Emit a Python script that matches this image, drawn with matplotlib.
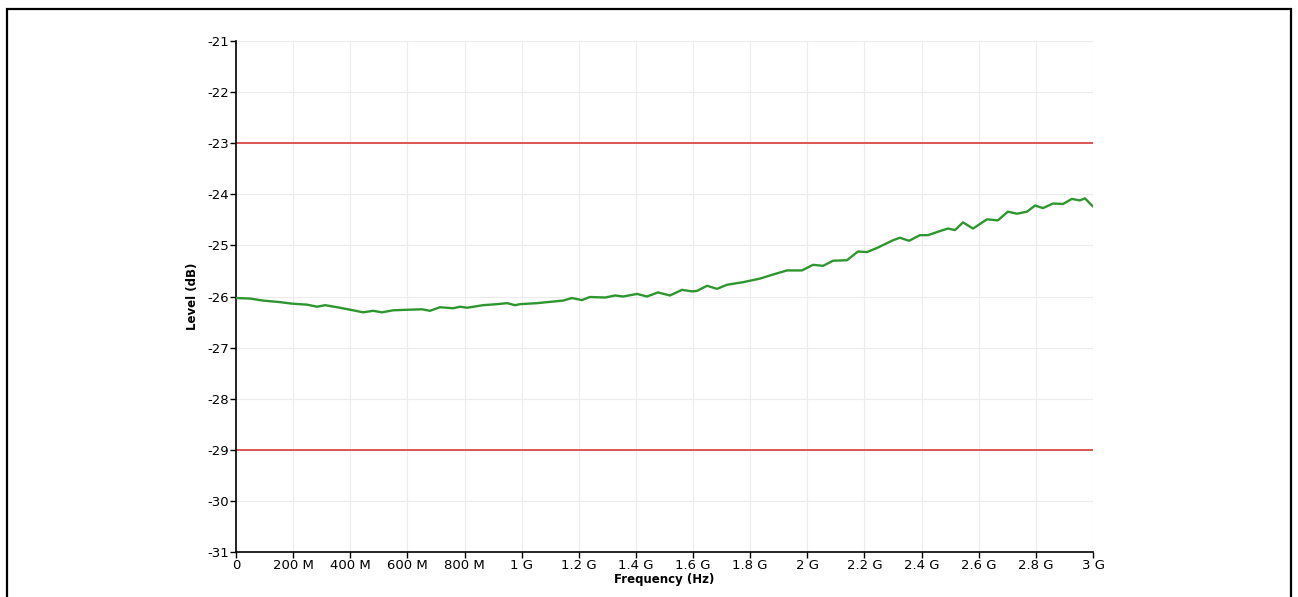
import matplotlib
matplotlib.use("Agg")
import matplotlib.pyplot as plt
from matplotlib.patches import Rectangle

plt.rcParams.update({
    "font.family": "DejaVu Sans",
    "font.size": 9,
})

# measured trace (MHz, dB)
freq_mhz = [0, 49, 95, 154, 196, 249, 284, 312, 354, 410, 445, 480, 511, 550,
            599, 651, 679, 714, 760, 784, 809, 865, 914, 949, 977, 994, 1054,
            1145, 1176, 1211, 1239, 1292, 1327, 1355, 1404, 1439, 1477, 1519,
            1561, 1596, 1614, 1649, 1684, 1719, 1775, 1834, 1880, 1929, 1981,
            2020, 2055, 2090, 2139, 2177, 2209, 2244, 2270, 2300, 2324, 2356,
            2394, 2422, 2464, 2492, 2517, 2545, 2580, 2629, 2667, 2702, 2734,
            2769, 2797, 2825, 2860, 2895, 2926, 2954, 2972, 3000]
level_db = [-26.03, -26.04, -26.08, -26.11, -26.14, -26.16, -26.20, -26.17,
            -26.21, -26.27, -26.31, -26.28, -26.31, -26.27, -26.26, -26.25,
            -26.28, -26.21, -26.23, -26.20, -26.22, -26.17, -26.15, -26.13,
            -26.17, -26.15, -26.13, -26.08, -26.03, -26.07, -26.01, -26.02,
            -25.98, -26.00, -25.95, -26.00, -25.92, -25.98, -25.87, -25.90,
            -25.89, -25.79, -25.85, -25.77, -25.72, -25.65, -25.57, -25.49,
            -25.49, -25.38, -25.40, -25.30, -25.29, -25.12, -25.13, -25.05,
            -24.98, -24.90, -24.85, -24.91, -24.80, -24.80, -24.72, -24.67,
            -24.70, -24.55, -24.67, -24.49, -24.51, -24.34, -24.38, -24.34,
            -24.22, -24.27, -24.18, -24.19, -24.09, -24.12, -24.08, -24.24]

upper_limit = -23
lower_limit = -29

x_ticks = [0, 200, 400, 600, 800, 1000, 1200, 1400, 1600, 1800, 2000, 2200,
           2400, 2600, 2800, 3000]
x_labels = ["0", "200 M", "400 M", "600 M", "800 M", "1 G", "1.2 G", "1.4 G",
            "1.6 G", "1.8 G", "2 G", "2.2 G", "2.4 G", "2.6 G", "2.8 G", "3 G"]
y_ticks = list(range(-31, -20))

W, H = 1298, 597
fig = plt.figure(figsize=(W / 100, H / 100), dpi=100)
ax = fig.add_axes([236 / W, 1 - 552 / H, (1093 - 236) / W, (552 - 41) / H])

ax.plot(freq_mhz, level_db, color="#2e962e", lw=1.7, zorder=3,
        solid_joinstyle="round", solid_capstyle="round")
ax.axhline(upper_limit, color="#d94a44", lw=1.3, zorder=2)
ax.axhline(lower_limit, color="#d94a44", lw=1.3, zorder=2)

ax.set_xlim(0, 3000)
ax.set_ylim(-31, -21)
ax.set_xticks(x_ticks)
ax.set_xticklabels(x_labels)
ax.set_yticks(y_ticks)
ax.set_yticklabels([str(v) for v in y_ticks])
ax.grid(True, color="#ececec", lw=0.8, zorder=0)
ax.set_axisbelow(True)

for s in ("top", "right"):
    ax.spines[s].set_visible(False)
for s in ("left", "bottom"):
    ax.spines[s].set_linewidth(1.2)
ax.tick_params(direction="out", length=4, width=1.0, pad=1, labelsize=9.5,
               colors="black")

ax.set_xlabel("Frequency (Hz)", fontsize=8.5, fontweight="bold", labelpad=1)
ax.set_ylabel("Level (dB)", fontsize=8.5, fontweight="bold", labelpad=6)

# outer frame
fig.patches.append(Rectangle((7 / W, -0.05), (1291 - 7) / W, 1.05 - 9 / H,
                             transform=fig.transFigure, fill=False,
                             edgecolor="black", lw=1.6))

fig.savefig("out.png", dpi=100)
